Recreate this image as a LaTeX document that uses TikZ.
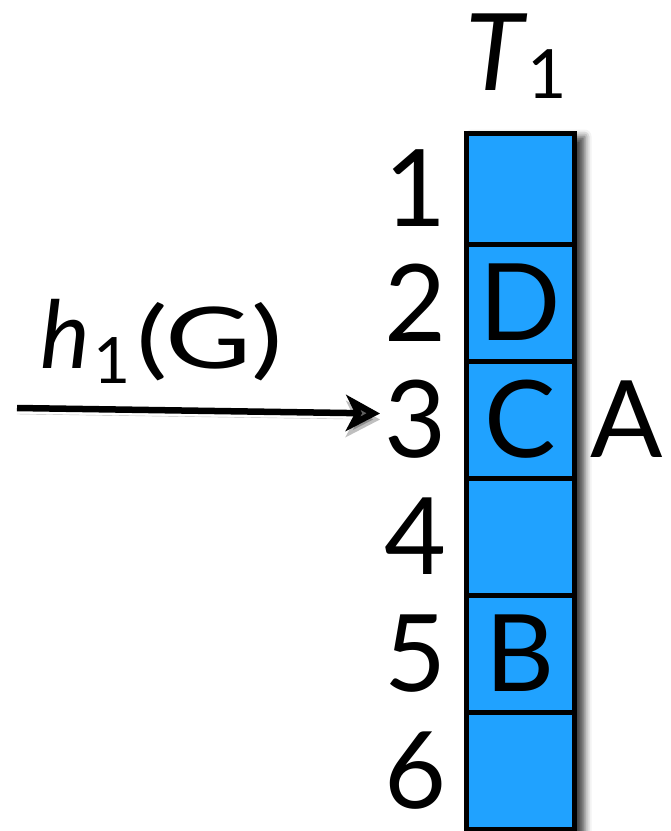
\documentclass[tikz,border=0pt]{standalone}
\usepackage{fontspec}
\setmainfont{Lato}
\usetikzlibrary{arrows.meta,shadows.blur}
\definecolor{CellClr}{RGB}{32,162,255}

\begin{document}
\begin{tikzpicture}[x=1pt,y=-1pt,
  cell/.style={draw=black,line width=5pt,fill=CellClr,minimum width=108pt,inner sep=0pt},
  big/.style={font=\fontsize{107}{110}\selectfont,inner sep=0pt},
  hashtext/.style={font=\fontsize{76}{84}\selectfont,inner sep=0pt},
  arr/.style={line width=6.5pt,-{Stealth[length=34pt,width=36pt,inset=9pt]},
    preaction={draw=black,opacity=.25,transform canvas={yshift=-6pt}}}]
\useasboundingbox (0,0) rectangle (671,831);

% shadow of the column
\fill[white,blur shadow={shadow xshift=8pt,shadow yshift=-6pt,shadow blur radius=7pt,shadow opacity=75}]
  (463.5,130.5) rectangle (576.5,831.5);

\foreach \i/\a/\b in {1/133/244,2/244/361,3/361/478,4/478/595,5/595/712,6/712/829}
  \node[cell,minimum height={(\b-\a)*1pt}] (c\i) at (520,{(\a+\b)/2}) {};

\foreach \i in {1,...,6}
  \node[big,anchor=east] (n\i) at ([xshift=-17pt]c\i.west) {\i};

\node[big] (d) at (c2) {D};
\node[big] (cc) at (c3) {C};
\node[big] (b) at (c5) {B};
\node[big,anchor=west] (a) at ([xshift=14pt]c3.east) {A};

\node[big,anchor=base] (tlab) at ([xshift=-4pt,yshift=40pt]c1.north)
  {\itshape T\kern4pt\upshape\raisebox{-8pt}{\fontsize{68}{68}\selectfont 1}};

\coordinate (start) at (17,408);
\node[hashtext,anchor=base west] (hlab) at (40,368)
  {{\fontsize{94}{94}\selectfont\itshape h}\kern4pt\raisebox{-15pt}{\fontsize{64}{64}\selectfont 1}\kern5pt\scalebox{1.55}[1.12]{(G)}};

\draw[arr] (start) -- ([xshift=-4pt,yshift=6pt]n3.west);
\end{tikzpicture}
\end{document}
